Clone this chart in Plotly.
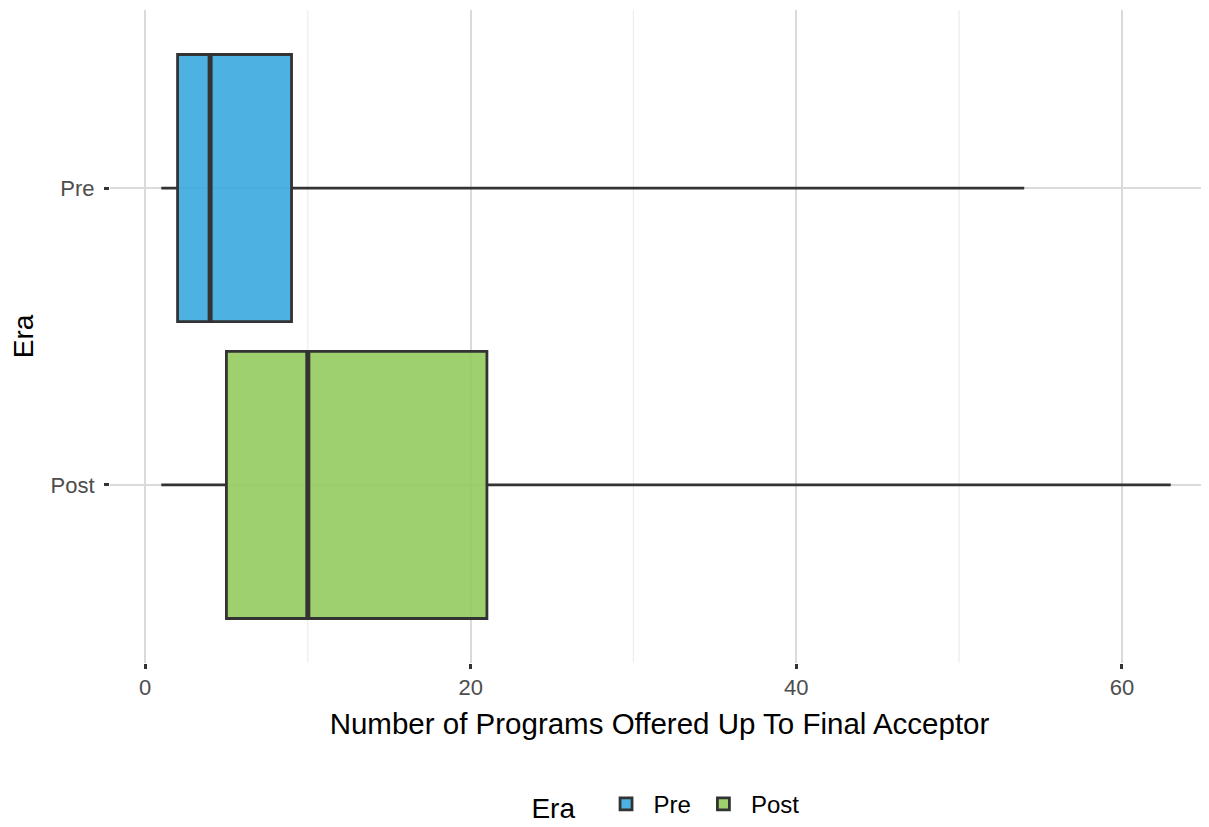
import plotly.graph_objects as go

eras = ["Pre", "Post"]
mins = [1, 1]
q1s = [2, 5]
medians = [4, 10]
q3s = [9, 21]
maxs = [54, 63]
colors = ["rgba(52,167,221,0.88)", "rgba(145,203,90,0.88)"]
x_ticks = [0, 20, 40, 60]
minor_ticks = [10, 30, 50]
category_order = ["Post", "Pre"]

fig = go.Figure()
for i, era in enumerate(eras):
    fig.add_trace(go.Box(
        y=[era], q1=[q1s[i]], median=[medians[i]], q3=[q3s[i]],
        lowerfence=[mins[i]], upperfence=[maxs[i]],
        orientation="h", name=era, fillcolor=colors[i],
        line=dict(color="#333333", width=2.8), whiskerwidth=0,
        width=0.9, boxpoints=False, hoverinfo="skip",
    ))
    # thicker median line, as in ggplot
    idx = category_order.index(era)
    fig.add_shape(type="line", x0=medians[i], x1=medians[i],
                  y0=idx - 0.45, y1=idx + 0.45, xref="x", yref="y",
                  line=dict(color="#333333", width=5), layer="above")

# minor gridlines
for v in minor_ticks:
    fig.add_shape(type="line", x0=v, x1=v, y0=0, y1=1, xref="x", yref="paper",
                  line=dict(color="#EBEBEB", width=1.1), layer="below")

fig.update_layout(
    width=1209, height=827,
    paper_bgcolor="white", plot_bgcolor="white",
    margin=dict(l=102, r=8, t=2, b=172),
    font=dict(family="Liberation Sans, Arial, sans-serif", color="#000000"),
    boxmode="overlay",
    showlegend=True,
    legend=dict(orientation="h", x=0.545, xanchor="center",
                xref="container", yref="container", y=0.036, yanchor="middle",
                valign="middle",
                title=dict(text="Era  ", font=dict(size=28, color="#000000"), side="left"),
                font=dict(size=24, color="#000000"), itemwidth=45),
    xaxis=dict(
        range=[-2.15, 65.35], tickvals=x_ticks, ticktext=[str(t) for t in x_ticks],
        showgrid=True, gridcolor="#DADADA", gridwidth=2, zeroline=False,
        ticks="outside", ticklen=5, tickwidth=2.5, tickcolor="#333333",
        tickfont=dict(size=22, color="#4D4D4D"), automargin=False,
        title=dict(text="Number of Programs Offered Up To Final Acceptor",
                   font=dict(size=29.5, color="#000000"), standoff=13),
        showline=False,
    ),
    yaxis=dict(
        type="category", categoryorder="array", categoryarray=category_order,
        range=[-0.6, 1.6],
        showgrid=True, gridcolor="#DADADA", gridwidth=2, zeroline=False,
        ticks="outside", ticklen=5, tickwidth=2.5, tickcolor="#333333",
        tickfont=dict(size=22, color="#4D4D4D"), ticklabelstandoff=5,
        automargin=False,
        title=dict(text="Era", font=dict(size=28, color="#000000"), standoff=14),
        showline=False,
    ),
)

fig.write_html("out.html")
